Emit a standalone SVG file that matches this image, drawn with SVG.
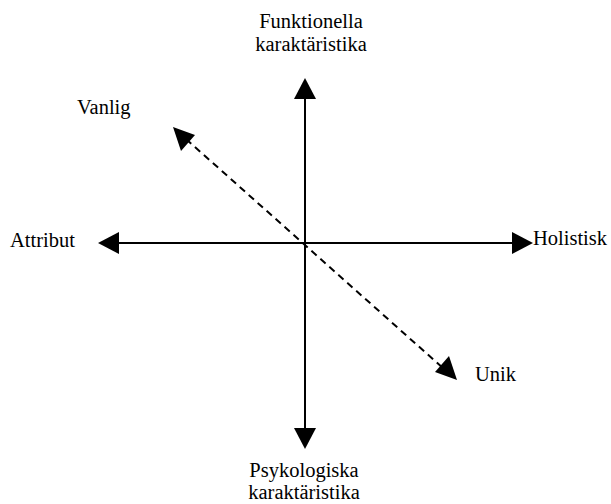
<svg xmlns="http://www.w3.org/2000/svg" width="611" height="504" viewBox="0 0 611 504">
<style>
text{font-family:"Liberation Serif","Times New Roman",serif;font-size:20.5px;fill:#000}
.ax{stroke:#000;stroke-width:2;fill:none}
.dash{stroke:#000;stroke-width:2;fill:none;stroke-dasharray:7,5}
.head{fill:#000}
</style>
<rect width="611" height="504" fill="#fff"/>
<g id="connectors">
<line class="ax" x1="305" y1="96" x2="305" y2="432"/>
<polygon class="head" points="305,78 294,99 316,99"/>
<polygon class="head" points="305,449 294,428 316,428"/>
<line class="ax" x1="116" y1="243" x2="515" y2="243"/>
<polygon class="head" points="98,243 119,232 119,254"/>
<polygon class="head" points="533,243 512,232 512,254"/>
<line class="dash" x1="186" y1="139" x2="444" y2="369"/>
<polygon class="head" points="173,127 195,135 181,151"/>
<polygon class="head" points="457,380 435,372 449,356"/>
</g>
<g id="n-funktionella"><text x="311" y="28" text-anchor="middle">Funktionella</text><text x="311" y="51" text-anchor="middle">karaktäristika</text></g>
<g id="n-vanlig"><text x="77" y="114">Vanlig</text></g>
<g id="n-attribut"><text x="10" y="247">Attribut</text></g>
<g id="n-holistisk"><text x="533" y="245">Holistisk</text></g>
<g id="n-unik"><text x="475" y="381">Unik</text></g>
<g id="n-psykologiska"><text x="304" y="477" text-anchor="middle">Psykologiska</text><text x="304" y="499" text-anchor="middle">karaktäristika</text></g>
</svg>
